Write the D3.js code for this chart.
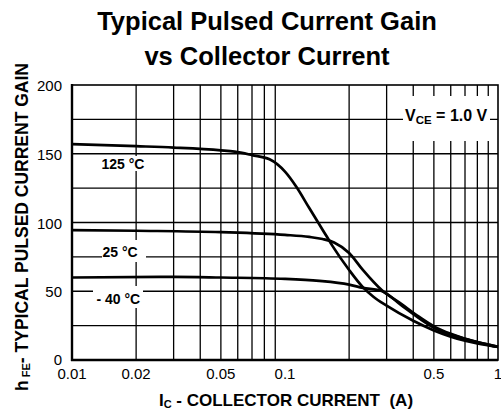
<!DOCTYPE html>
<html><head><meta charset="utf-8">
<script src="https://cdn.jsdelivr.net/npm/d3@7"></script>
<style>
body{margin:0;background:#fff}
text{font-family:"Liberation Sans",Arial,Helvetica,sans-serif;fill:#000}
</style>
</head><body>
<svg id="chart" width="501" height="413"></svg>
<script>
// ---- data ----
const titleLines = ["Typical Pulsed Current Gain", "vs Collector Current"];
const xTicks = [0.01, 0.02, 0.05, 0.1, 0.5, 1];
const xTickLabels = ["0.01", "0.02", "0.05", "0.1", "0.5", "1"];
const xGrid = [0.02, 0.03, 0.04, 0.05, 0.06, 0.07, 0.08, 0.09, 0.2, 0.3, 0.4, 0.5, 0.6, 0.7, 0.8, 0.9];
const yTicks = [0, 50, 100, 150, 200];
const yTickLabels = ["0", "50", "100", "150", "200"];
const yGrid = [25, 50, 75, 100, 125, 150, 175];

const seriesNames = ["125 °C", "25 °C", "- 40 °C"];
const current125 = [0.01, 0.02, 0.03, 0.05, 0.058, 0.07, 0.0846, 0.1, 0.113, 0.13, 0.145, 0.156, 0.167, 0.2, 0.232, 0.26, 0.3, 0.4, 0.5, 0.6, 0.7, 0.8, 1.0];
const gain125    = [157, 155.5, 154.5, 152.5, 151.5, 149, 146, 137, 126, 110.5, 98.5, 90.5, 83, 65.5, 53, 46, 39.5, 28.5, 21.5, 17, 14, 12, 9.5];
const current25  = [0.01, 0.02, 0.05, 0.1, 0.13, 0.15, 0.17, 0.2, 0.232, 0.286, 0.35, 0.425, 0.5, 0.6, 0.7, 0.8, 1.0];
const gain25     = [94.5, 94, 93, 91, 89.5, 88, 85.5, 77.8, 65.5, 50.5, 41, 31.5, 24.5, 19, 15.5, 13, 9.5];
const currentM40 = [0.01, 0.03, 0.05, 0.1, 0.145, 0.2, 0.232, 0.286, 0.35, 0.425, 0.5, 0.6, 0.7, 0.8, 1.0];
const gainM40    = [60, 60.5, 60, 59, 57.5, 54.8, 52.5, 50, 40, 30.5, 23.5, 18.5, 15.5, 13, 9.5];

// ---- layout ----
const svg = d3.select("#chart");
const L = 72, R = 498, T = 85, B = 360;
const x = d3.scaleLog().domain([0.01, 1]).range([L, R]);
const y = d3.scaleLinear().domain([0, 200]).range([B, T]);

// title
svg.append("g").selectAll("text").data(titleLines).join("text")
  .attr("x", 267).attr("y", (d, i) => 30 + i * 35)
  .attr("text-anchor", "middle").attr("font-size", 25.5).attr("font-weight", "bold")
  .text(d => d);

// grid
const grid = svg.append("g").attr("stroke", "#000").attr("stroke-width", 1.3);
grid.selectAll("line.v").data(xGrid).join("line").attr("class", "v")
  .attr("x1", d => x(d)).attr("x2", d => x(d)).attr("y1", T).attr("y2", B);
grid.selectAll("line.h").data(yGrid).join("line").attr("class", "h")
  .attr("y1", d => y(d)).attr("y2", d => y(d)).attr("x1", L).attr("x2", R);

// frame
svg.append("rect").attr("x", L).attr("y", T).attr("width", R - L).attr("height", B - T)
  .attr("fill", "none").attr("stroke", "#000").attr("stroke-width", 1.6);
svg.append("line").attr("x1", L).attr("x2", L).attr("y1", T - 1).attr("y2", B + 1)
  .attr("stroke", "#000").attr("stroke-width", 2.4);
svg.append("line").attr("x1", L - 1).attr("x2", R).attr("y1", B).attr("y2", B)
  .attr("stroke", "#000").attr("stroke-width", 2.4);

// label boxes (white patches over grid)
function boxLabel(bx, by, bw, bh, tx, ty, size, parts) {
  svg.append("rect").attr("x", bx).attr("y", by).attr("width", bw).attr("height", bh).attr("fill", "#fff");
  const t = svg.append("text").attr("x", tx).attr("y", ty).attr("font-size", size)
    .attr("font-weight", "bold").style("white-space", "pre");
  parts.forEach(p => {
    const s = t.append("tspan").text(p.t);
    if (p.sub) s.attr("font-size", p.sub).attr("dy", p.dy);
    if (p.back) s.attr("dy", p.back);
  });
}
boxLabel(100, 156, 46, 15, 101.5, 169, 14, [{t: seriesNames[0]}]);
boxLabel(102, 240, 44, 22, 102.5, 257, 14, [{t: seriesNames[1]}]);
boxLabel(93, 286, 50, 22, 96.5, 304, 14, [{t: seriesNames[2]}]);
boxLabel(403, 96, 87, 45, 405, 121, 16, [{t: "V"}, {t: "CE", sub: 11.5, dy: 3}, {t: " = 1.0 V", back: -3}]);

// curves
const line = d3.line().x(d => x(d[0])).y(d => y(d[1])).curve(d3.curveMonotoneX);
const series = [
  d3.zip(current125, gain125),
  d3.zip(current25, gain25),
  d3.zip(currentM40, gainM40)
];
svg.append("g").selectAll("path").data(series).join("path")
  .attr("d", line).attr("fill", "none").attr("stroke", "#000")
  .attr("stroke-width", 2.7).attr("stroke-linejoin", "round");

// tick labels
svg.append("g").selectAll("text").data(yTicks).join("text")
  .attr("x", 62).attr("y", d => y(d) + (d === 0 ? 4.5 : 6)).attr("text-anchor", "end")
  .attr("font-size", 15).text((d, i) => yTickLabels[i]);
svg.append("g").selectAll("text").data(xTicks).join("text")
  .attr("x", d => x(d)).attr("y", 379).attr("text-anchor", "middle")
  .attr("font-size", 15).text((d, i) => xTickLabels[i]);

// axis titles
const xt = svg.append("text").attr("x", 286).attr("y", 406).attr("text-anchor", "middle")
  .attr("font-size", 17).attr("font-weight", "bold").style("white-space", "pre");
xt.append("tspan").text("I");
xt.append("tspan").text("C").attr("font-size", 11).attr("dy", 2);
xt.append("tspan").text(" - COLLECTOR CURRENT  (A)").attr("dy", -2);

const yt = svg.append("text").attr("transform", "translate(28,227) rotate(-90)")
  .attr("text-anchor", "middle").attr("font-size", 17.5).attr("font-weight", "bold")
  .style("white-space", "pre");
yt.append("tspan").text("h");
yt.append("tspan").text(" FE").attr("font-size", 11).attr("dy", 2);
yt.append("tspan").text("- TYPICAL PULSED CURRENT GAIN").attr("dy", -2);
</script>
</body></html>
